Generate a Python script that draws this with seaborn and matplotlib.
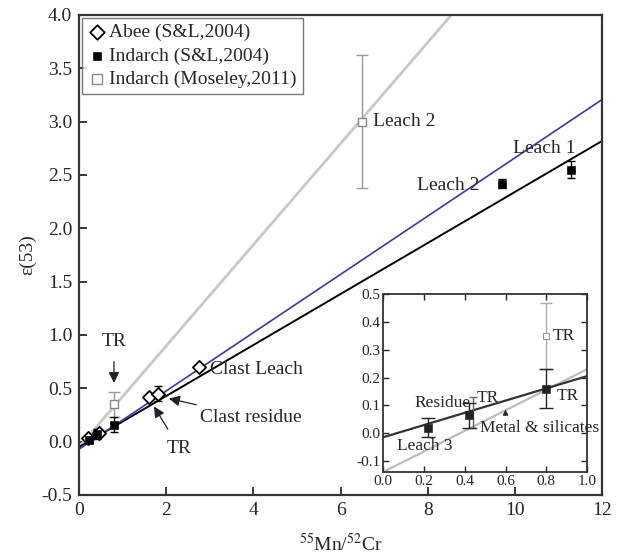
import numpy as np
import pandas as pd
import matplotlib
matplotlib.use("Agg")
import matplotlib.pyplot as plt
import seaborn as sns

sns.set_style("ticks")
plt.rcParams['font.family'] = ['Liberation Serif', 'DejaVu Serif']
plt.rcParams['mathtext.fontset'] = 'stix'

# ---- data (main panel) ----
abee_x = [0.2, 0.45, 1.6, 1.8, 2.75]
abee_y = [0.03, 0.08, 0.42, 0.45, 0.70]
abee_err = [0.02, 0.02, 0.03, 0.07, 0.03]

ind_sl_x = [0.22, 0.42, 0.8, 9.7, 11.3]
ind_sl_y = [0.02, 0.07, 0.16, 2.42, 2.55]
ind_sl_err = [0.035, 0.045, 0.07, 0.04, 0.08]

ind_mos_x = [0.8, 6.5]
ind_mos_y = [0.35, 3.0]
ind_mos_err = [0.12, 0.62]

# isochron lines: (intercept, slope)
line_black = (-0.05, 0.239)
line_blue = (-0.07, 0.273)
line_gray = (-0.05, 0.474)

# ---- data (inset) ----
in_sl_x = [0.22, 0.42, 0.8]
in_sl_y = [0.02, 0.065, 0.16]
in_sl_err = [0.035, 0.045, 0.07]
in_mos_x = [0.8]
in_mos_y = [0.35]
in_mos_err = [0.12]
in_tr_x = [0.44]
in_tr_y = [0.075]
in_tr_err = [0.055]
in_line_black = (-0.015, 0.22)
in_line_gray = (-0.14, 0.37)

fig = plt.figure(figsize=(6.18, 5.54), dpi=100)
ax = fig.add_axes([0.128, 0.1065, 0.846, 0.8665])

xs = np.array([0.0, 12.0])
for (b, m), col, lw in [(line_gray, '#c8c8c8', 2.0), (line_black, 'black', 1.4), (line_blue, '#3a3a9a', 1.2)]:
    sns.lineplot(x=xs, y=b + m * xs, color=col, lw=lw, ax=ax, zorder=2)

ax.errorbar(ind_mos_x, ind_mos_y, yerr=ind_mos_err, fmt='none', ecolor='#999999', elinewidth=1, capsize=4, zorder=3)
ax.errorbar(abee_x, abee_y, yerr=abee_err, fmt='none', ecolor='black', elinewidth=1, capsize=3, zorder=3)
ax.errorbar(ind_sl_x, ind_sl_y, yerr=ind_sl_err, fmt='none', ecolor='black', elinewidth=1, capsize=3, zorder=3)

sns.scatterplot(x=abee_x, y=abee_y, marker='D', s=45, facecolor='white', edgecolor='black', linewidth=1.3,
                ax=ax, zorder=4, label='Abee (S&L,2004)')
sns.scatterplot(x=ind_sl_x, y=ind_sl_y, marker='s', s=30, color='black', edgecolor='black',
                ax=ax, zorder=4, label='Indarch (S&L,2004)')
sns.scatterplot(x=ind_mos_x, y=ind_mos_y, marker='s', s=35, facecolor='white', edgecolor='#888888', linewidth=1,
                ax=ax, zorder=4, label='Indarch (Moseley,2011)')

ax.set_xlim(0, 12)
ax.set_ylim(-0.5, 4.0)
ax.set_xticks([0, 2, 4, 6, 8, 10, 12])
ax.set_yticks(np.arange(-0.5, 4.01, 0.5))
ax.set_yticklabels([f"{v:.1f}" for v in np.arange(-0.5, 4.01, 0.5)])
ax.tick_params(direction='in', labelsize=14, length=6, width=1.3, pad=5)
for s in ax.spines.values():
    s.set_linewidth(1.6)
    s.set_color('#333333')
ax.set_xlabel(r"$^{55}$Mn/$^{52}$Cr", fontsize=14, labelpad=10)
ax.set_ylabel("ε(53)", fontsize=14, labelpad=4)

leg = ax.legend(loc='upper left', fontsize=14, frameon=True, fancybox=False, edgecolor='#555555',
                borderaxespad=0.15, handletextpad=0.2, handlelength=0.9, borderpad=0.3, labelspacing=0.3,
                markerscale=1.1)
leg.get_frame().set_linewidth(1.0)

# annotations main
tf = dict(fontsize=14)
ax.text(6.75, 3.0, "Leach 2", va='center', ha='left', **tf)
ax.text(9.95, 2.75, "Leach 1", va='center', ha='left', **tf)
ax.text(7.75, 2.4, "Leach 2", va='center', ha='left', **tf)
ax.text(3.0, 0.68, "Clast Leach", va='center', ha='left', **tf)
ax.annotate("Clast residue", xy=(2.0, 0.41), xytext=(2.78, 0.23), va='center', ha='left', **tf,
            arrowprops=dict(arrowstyle='-|>', color='#222222', lw=0.9, mutation_scale=16))
ax.annotate("TR", xy=(1.72, 0.33), xytext=(2.3, -0.06), va='center', ha='center', **tf,
            arrowprops=dict(arrowstyle='-|>', color='#222222', lw=0.9, mutation_scale=16, shrinkB=0, shrinkA=6))
ax.annotate("TR", xy=(0.8, 0.55), xytext=(0.8, 0.94), va='center', ha='center', **tf,
            arrowprops=dict(arrowstyle='-|>', color='#222222', lw=0.9, mutation_scale=16, shrinkB=0, shrinkA=6))

# ---- inset ----
ins = fig.add_axes([0.62, 0.148, 0.33, 0.321])
xi = np.array([0.0, 1.0])
sns.lineplot(x=xi, y=in_line_gray[0] + in_line_gray[1] * xi, color='#bbbbbb', lw=1.6, ax=ins, zorder=2)
sns.lineplot(x=xi, y=in_line_black[0] + in_line_black[1] * xi, color='#333333', lw=1.6, ax=ins, zorder=2)
ins.errorbar(in_mos_x, in_mos_y, yerr=in_mos_err, fmt='none', ecolor='#aaaaaa', elinewidth=1, capsize=4, zorder=3)
ins.errorbar(in_tr_x, in_tr_y, yerr=in_tr_err, fmt='none', ecolor='#666666', elinewidth=1, capsize=3, zorder=3)
ins.errorbar(in_sl_x, in_sl_y, yerr=in_sl_err, fmt='none', ecolor='#222222', elinewidth=1, capsize=5, zorder=3)
sns.scatterplot(x=in_sl_x, y=in_sl_y, marker='s', s=30, color='#222222', edgecolor='#222222', ax=ins, zorder=4)
sns.scatterplot(x=in_mos_x, y=in_mos_y, marker='s', s=14, facecolor='white', edgecolor='#999999', linewidth=0.8, ax=ins, zorder=4)
ins.set_xlim(0, 1.0)
ins.set_ylim(-0.14, 0.5)
ins.set_xticks(np.arange(0, 1.01, 0.2))
ins.set_xticklabels([f"{v:.1f}" for v in np.arange(0, 1.01, 0.2)])
ins.set_yticks(np.arange(-0.1, 0.51, 0.1))
ins.set_yticklabels([f"{v:.1f}" for v in np.arange(-0.1, 0.51, 0.1)])
ins.tick_params(direction='in', labelsize=11, length=4, width=1, top=True, right=True, pad=2)
for s in ins.spines.values():
    s.set_linewidth(1.3)
    s.set_color('#333333')
tfi = dict(fontsize=12.5)
ins.text(0.83, 0.35, "TR", va='center', ha='left', **tfi)
ins.text(0.85, 0.135, "TR", va='center', ha='left', **tfi)
ins.text(0.43, 0.11, "Residue", va='center', ha='right', **tfi)
ins.text(0.46, 0.125, "TR", va='center', ha='left', **tfi)
ins.text(0.475, 0.02, "Metal & silicates", va='center', ha='left', clip_on=False, **tfi)
ins.text(0.07, -0.045, "Leach 3", va='center', ha='left', **tfi)
ins.annotate("", xy=(0.6, 0.095), xytext=(0.6, 0.055),
             arrowprops=dict(arrowstyle='-|>', color='#222222', lw=0.8, mutation_scale=8))

fig.savefig("out.png", dpi=100, facecolor='white')
